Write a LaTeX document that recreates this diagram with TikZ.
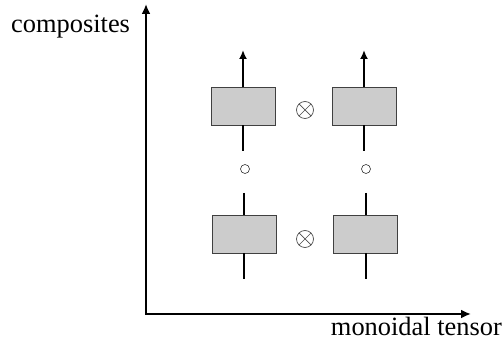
\documentclass[tikz,border=0pt]{standalone}
\usepackage{fontspec}
\setmainfont{Liberation Serif}
\usetikzlibrary{arrows.meta}
\begin{document}
\begin{tikzpicture}[x=1pt,y=-1pt,
  axis/.style={line width=2pt},
  wire/.style={line width=2pt},
  tip/.style={-{Latex[length=9pt,width=8pt]}},
  box/.style={draw=black!75, line width=0.9pt, fill=black!20, minimum width=64pt, minimum height=38pt, inner sep=0pt},
  compose/.style={circle, draw=black!80, line width=0.6pt, minimum size=9pt, inner sep=0pt},
  tensor/.style={circle, draw=black!70, line width=0.7pt, minimum size=17pt, inner sep=0pt,
     path picture={\draw[black!70, line width=0.7pt] (path picture bounding box.north west) -- (path picture bounding box.south east) (path picture bounding box.north east) -- (path picture bounding box.south west);}},
  lbl/.style={font=\fontsize{26.4}{30}\selectfont, inner sep=0pt}
]
\useasboundingbox (0,0) rectangle (503,352);
% axes
\coordinate (ytip) at (146,4);
\coordinate (xtip) at (471,314);
\draw[axis,{Latex[length=10pt,width=9pt]}-{Latex[length=10pt,width=9pt]}] (ytip) |- (xtip);
\node[lbl, anchor=base west] (ylab) at (11,33) {composites};
\node[lbl, anchor=base east] (xlab) at (502,336) {monoidal tensor};
% top row
\node[box] (tl) at (243,106) {};
\node[box] (tr) at (364,106) {};
\node[tensor] (tx1) at (305,110) {};
\coordinate (tla) at (243,50);
\coordinate (tra) at (364,50);
\coordinate (tlb) at (243,151);
\coordinate (trb) at (364,151);
\draw[wire,tip] (tl.north) -- (tla);
\draw[wire,tip] (tr.north) -- (tra);
\draw[wire] (tl.south) -- (tlb);
\draw[wire] (tr.south) -- (trb);
% composition circles
\node[compose] (cl) at (245,169) {};
\node[compose] (cr) at (366,169) {};
% bottom row
\node[box] (bl) at (244.5,234) {};
\node[box] (br) at (365.5,234) {};
\node[tensor] (tx2) at (305,239) {};
\coordinate (bla) at (244,193);
\coordinate (bra) at (366,193);
\coordinate (blb) at (244,279);
\coordinate (brb) at (366,279);
\draw[wire] (bla) -- (bla |- bl.north);
\draw[wire] (bra) -- (bra |- br.north);
\draw[wire] (bla |- bl.south) -- (blb);
\draw[wire] (bra |- br.south) -- (brb);
\end{tikzpicture}
\end{document}
